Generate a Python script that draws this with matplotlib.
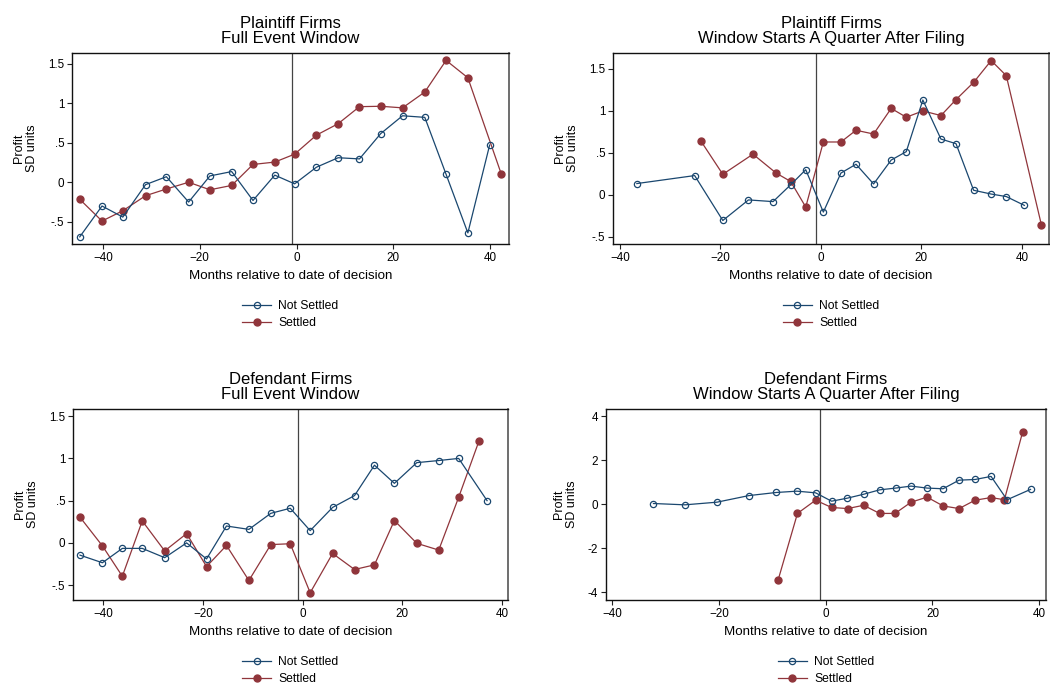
""" Profit in SD units around the date of decision, plaintiff vs defendant
	firms, settled vs not settled. Four Stata-like panels.
"""

## LIBRARIES
import numpy as np
import matplotlib
matplotlib.use('Agg')
import matplotlib.pyplot as plt

## GLOBAL PARAMS
NAVY = '#1a476f'
MAROON = '#90353b'
plt.rcParams['font.family'] = ['Liberation Sans', 'DejaVu Sans']

###############################################################################
## DATA
###############################################################################

# top left: plaintiff firms, full event window
p_full_ns_x = [-44.8, -40.2, -35.9, -31.2, -26.9, -22.3, -17.9, -13.4, -9.0, -4.5,
			   -0.4, 4.1, 8.6, 13.0, 17.4, 21.9, 26.5, 30.9, 35.4, 39.9]
p_full_ns_y = [-0.69, -0.30, -0.44, -0.03, 0.07, -0.25, 0.08, 0.135, -0.23, 0.09,
			   -0.02, 0.19, 0.31, 0.295, 0.615, 0.84, 0.82, 0.10, -0.64, 0.47]
p_full_s_x = [-44.8, -40.2, -35.9, -31.2, -26.9, -22.3, -17.9, -13.4, -9.0, -4.5,
			  -0.4, 4.1, 8.6, 13.0, 17.4, 21.9, 26.5, 30.9, 35.4, 42.3]
p_full_s_y = [-0.215, -0.49, -0.36, -0.17, -0.085, 0.0, -0.095, -0.04, 0.225, 0.255,
			  0.355, 0.595, 0.74, 0.955, 0.96, 0.94, 1.14, 1.54, 1.32, 0.105]

# top right: plaintiff firms, window starts a quarter after filing
p_qtr_ns_x = [-36.6, -25.1, -19.5, -14.4, -9.5, -6.0, -3.0, 0.5, 4.0, 7.0,
			  10.5, 14.0, 17.0, 20.3, 23.9, 26.9, 30.4, 33.9, 36.9, 40.5]
p_qtr_ns_y = [0.135, 0.23, -0.305, -0.06, -0.08, 0.12, 0.30, -0.205, 0.26, 0.365,
			  0.13, 0.415, 0.515, 1.13, 0.665, 0.61, 0.055, 0.01, -0.02, -0.125]
p_qtr_s_x = [-23.9, -19.5, -13.5, -8.9, -6.0, -3.0, 0.5, 4.0, 7.0, 10.5,
			 14.0, 17.0, 20.3, 23.9, 26.9, 30.4, 33.9, 36.9, 43.9]
p_qtr_s_y = [0.645, 0.245, 0.485, 0.26, 0.16, -0.145, 0.63, 0.63, 0.77, 0.725,
			 1.03, 0.925, 1.0, 0.945, 1.135, 1.34, 1.60, 1.42, -0.36]

# bottom left: defendant firms, full event window
d_full_ns_x = [-44.7, -40.2, -36.2, -32.2, -27.7, -23.3, -19.3, -15.3, -10.8, -6.4,
			   -2.5, 1.5, 6.0, 10.4, 14.4, 18.4, 22.9, 27.3, 31.3, 37.0]
d_full_ns_y = [-0.145, -0.235, -0.065, -0.065, -0.175, 0.0, -0.19, 0.20, 0.16, 0.35,
			   0.41, 0.145, 0.42, 0.56, 0.92, 0.705, 0.95, 0.975, 1.0, 0.50]
d_full_s_x = [-44.7, -40.2, -36.2, -32.2, -27.7, -23.3, -19.3, -15.3, -10.8, -6.4,
			  -2.5, 1.5, 6.0, 10.4, 14.4, 18.4, 22.9, 27.3, 31.3, 35.4]
d_full_s_y = [0.305, -0.035, -0.395, 0.26, -0.095, 0.11, -0.28, -0.03, -0.445, -0.02,
			  -0.01, -0.59, -0.125, -0.315, -0.26, 0.265, -0.005, -0.085, 0.54, 1.21]

# bottom right: defendant firms, window starts a quarter after filing
d_qtr_ns_x = [-32.3, -26.4, -20.4, -14.4, -9.3, -5.4, -1.9, 1.1, 4.0, 7.1,
			  10.1, 13.1, 16.0, 19.0, 22.0, 25.0, 28.0, 31.0, 34.0, 38.4]
d_qtr_ns_y = [0.03, -0.03, 0.09, 0.39, 0.53, 0.59, 0.515, 0.135, 0.27, 0.45,
			  0.65, 0.73, 0.82, 0.73, 0.70, 1.09, 1.12, 1.26, 0.20, 0.67]
d_qtr_s_x = [-8.9, -5.3, -1.9, 1.1, 4.1, 7.1, 10.1, 13.0, 16.0, 19.0,
			 22.0, 25.0, 28.0, 31.0, 33.5, 36.9]
d_qtr_s_y = [-3.42, -0.42, 0.18, -0.15, -0.20, -0.05, -0.42, -0.42, 0.09, 0.32,
			 -0.08, -0.20, 0.18, 0.30, 0.20, 3.26]

x_ticks = [-40, -20, 0, 20, 40]
y_ticks_small = [-0.5, 0, 0.5, 1, 1.5]
y_labels_small = ['-.5', '0', '.5', '1', '1.5']
y_ticks_big = [-4, -2, 0, 2, 4]
y_labels_big = ['-4', '-2', '0', '2', '4']

## METHODS
def draw_panel(ax, title, ns_x, ns_y, s_x, s_y, xlim, ylim, yticks, ylabels):
	"""one stata style panel: two series, a line at -1, legend underneath"""
	ax.axvline(-1, color='#444444', lw=0.9, zorder=1)
	ax.plot(ns_x, ns_y, color=NAVY, lw=0.9, marker='o', ms=4.5,
			mfc='none', mec=NAVY, mew=0.9, label='Not Settled', zorder=3)
	ax.plot(s_x, s_y, color=MAROON, lw=0.9, marker='o', ms=5.0,
			mfc=MAROON, mec=MAROON, label='Settled', zorder=2)

	ax.set_xlim(*xlim)
	ax.set_ylim(*ylim)
	ax.set_xticks(x_ticks)
	ax.set_yticks(yticks)
	ax.set_yticklabels(ylabels)
	ax.tick_params(direction='out', length=3.8, width=0.8, labelsize=8.4,
				   pad=1.8, color='#222222')
	for s in ['left', 'bottom', 'top']:
		ax.spines[s].set_color('#111111')
		ax.spines[s].set_linewidth(1.0)
	ax.spines['right'].set_color('#555555')
	ax.spines['right'].set_linewidth(1.2)

	ax.set_title(title, fontsize=12, linespacing=1.05, pad=7)
	ax.set_xlabel('Months relative to date of decision', fontsize=9.6, labelpad=4.5)
	ax.set_ylabel('Profit\nSD units', fontsize=9, linespacing=1.1, labelpad=7)

	ax.legend(loc='center', bbox_to_anchor=(0.5, -0.37), frameon=False,
			  fontsize=8.7, handlelength=2.4, handletextpad=0.6,
			  labelspacing=0.45, borderpad=0)

###############################################################################
## BUILD THE FIGURE
###############################################################################

W, H = 1050., 684.
fig = plt.figure(figsize=(W/100, H/100), dpi=100)
fig.patch.set_facecolor('white')

def box(l, r, t, b):
	return [l/W, (H-b)/H, (r-l)/W, (b-t)/H]

ax1 = fig.add_axes(box(72, 509, 53, 244))
ax2 = fig.add_axes(box(613, 1049, 53, 244))
ax3 = fig.add_axes(box(73, 508, 409, 600))
ax4 = fig.add_axes(box(606, 1046, 409, 600))

draw_panel(ax1, 'Plaintiff Firms\nFull Event Window',
		   p_full_ns_x, p_full_ns_y, p_full_s_x, p_full_s_y,
		   (-46.4, 43.9), (-0.78, 1.633), y_ticks_small, y_labels_small)
draw_panel(ax2, 'Plaintiff Firms\nWindow Starts A Quarter After Filing',
		   p_qtr_ns_x, p_qtr_ns_y, p_qtr_s_x, p_qtr_s_y,
		   (-41.35, 45.4), (-0.585, 1.69), y_ticks_small, y_labels_small)
draw_panel(ax3, 'Defendant Firms\nFull Event Window',
		   d_full_ns_x, d_full_ns_y, d_full_s_x, d_full_s_y,
		   (-46.1, 41.2), (-0.676, 1.585), y_ticks_small, y_labels_small)
draw_panel(ax4, 'Defendant Firms\nWindow Starts A Quarter After Filing',
		   d_qtr_ns_x, d_qtr_ns_y, d_qtr_s_x, d_qtr_s_y,
		   (-41.2, 41.3), (-4.35, 4.32), y_ticks_big, y_labels_big)

fig.savefig('out.png', dpi=100)
